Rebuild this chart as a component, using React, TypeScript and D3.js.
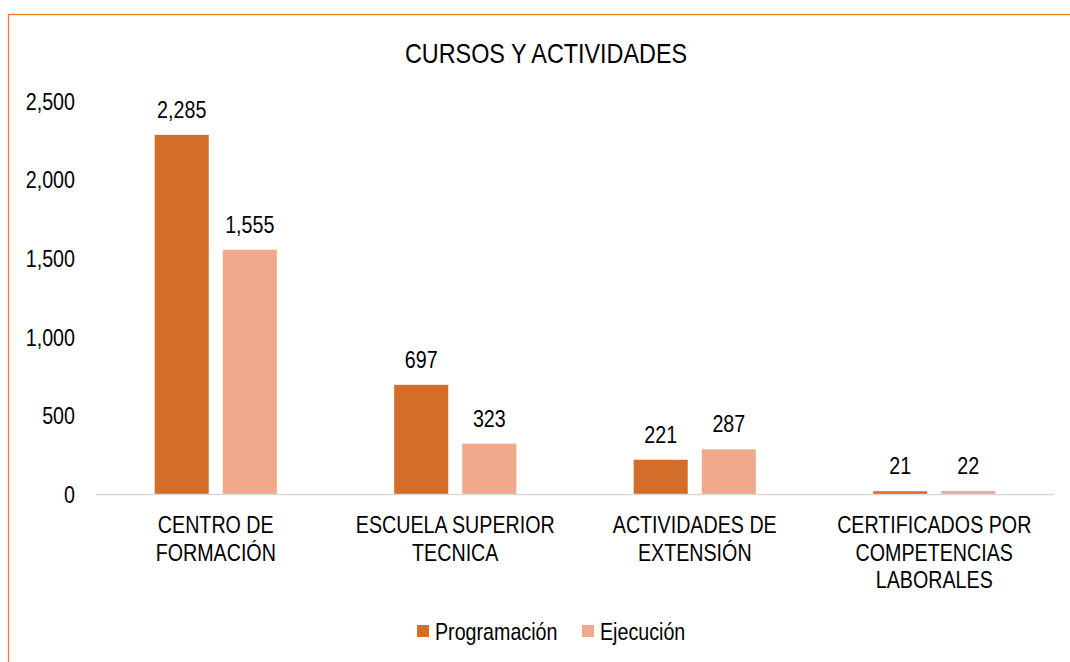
import React from 'react'
import * as d3 from 'd3'

const categories = [
  'CENTRO DE\nFORMACIÓN',
  'ESCUELA SUPERIOR\nTECNICA',
  'ACTIVIDADES DE\nEXTENSIÓN',
  'CERTIFICADOS POR\nCOMPETENCIAS\nLABORALES',
]
const programacion = [2285, 697, 221, 21]
const ejecucion = [1555, 323, 287, 22]
const seriesNames = ['Programación', 'Ejecución']
const yTicks = [0, 500, 1000, 1500, 2000, 2500]

const FONT = '"Liberation Sans", Arial, sans-serif'
const COLORS = ['#D26D2A', '#F1A98B']
const NARROW = 0.82

// Arial Narrow isn't available, so squeeze Liberation Sans horizontally
function NText({ x, y, anchor = 'middle', size = 24, children }: any) {
  return (
    <g transform={`translate(${x},${y}) scale(${NARROW},1)`}>
      <text x={0} y={0} textAnchor={anchor} fontSize={size} fill="#000">{children}</text>
    </g>
  )
}

export default function App() {
  const left = 96
  const right = 1054
  const top = 101
  const bottom = 494.5

  const x0 = d3.scaleBand<string>()
    .domain(categories)
    .range([left, right])
    .paddingInner(0.49)
    .paddingOuter(0.245)

  const x1 = d3.scaleBand<string>()
    .domain(seriesNames)
    .range([0, x0.bandwidth()])
    .paddingInner(0.206)

  const y = d3.scaleLinear().domain([0, 2500]).range([bottom, top])
  const fmt = d3.format(',')

  const series = [programacion, ejecucion]

  return (
    <svg width={1070} height={662} style={{ position: 'absolute', left: 0, top: 0 }} fontFamily={FONT}>
      <rect x={0} y={0} width={1070} height={662} fill="#fff" />
      <rect x={8.5} y={14.5} width={1100} height={700} fill="none" stroke="#ED7D31" strokeWidth={1.3} />

      <NText x={546} y={63} size={28.5}>CURSOS Y ACTIVIDADES</NText>

      {yTicks.map(t => (
        <NText key={t} x={75} y={y(t) + 8.5} anchor="end">{fmt(t)}</NText>
      ))}

      {series.map((vals, si) => (
        <g key={si} fill={COLORS[si]}>
          {vals.map((v, ci) => {
            const bx = (x0(categories[ci]) as number) + (x1(seriesNames[si]) as number)
            return <rect key={ci} x={bx} y={y(v)} width={x1.bandwidth()} height={bottom - y(v)} />
          })}
        </g>
      ))}

      {series.map((vals, si) => vals.map((v, ci) => {
        const bx = (x0(categories[ci]) as number) + (x1(seriesNames[si]) as number)
        return <NText key={`${si}-${ci}`} x={bx + x1.bandwidth() / 2} y={y(v) - 17}>{fmt(v)}</NText>
      }))}

      <line x1={left} x2={right} y1={bottom} y2={bottom} stroke="#D9D9D9" strokeWidth={1.5} />

      {categories.map(c => {
        const cx = (x0(c) as number) + x0.bandwidth() / 2
        return c.split('\n').map((line, i) => (
          <NText key={c + i} x={cx} y={533 + i * 27.5}>{line}</NText>
        ))
      })}

      {seriesNames.map((name, i) => {
        const lx = i === 0 ? 417 : 582
        return (
          <g key={name}>
            <rect x={lx} y={625} width={12} height={12} fill={COLORS[i]} />
            <NText x={lx + 18} y={640} anchor="start">{name}</NText>
          </g>
        )
      })}
    </svg>
  )
}
